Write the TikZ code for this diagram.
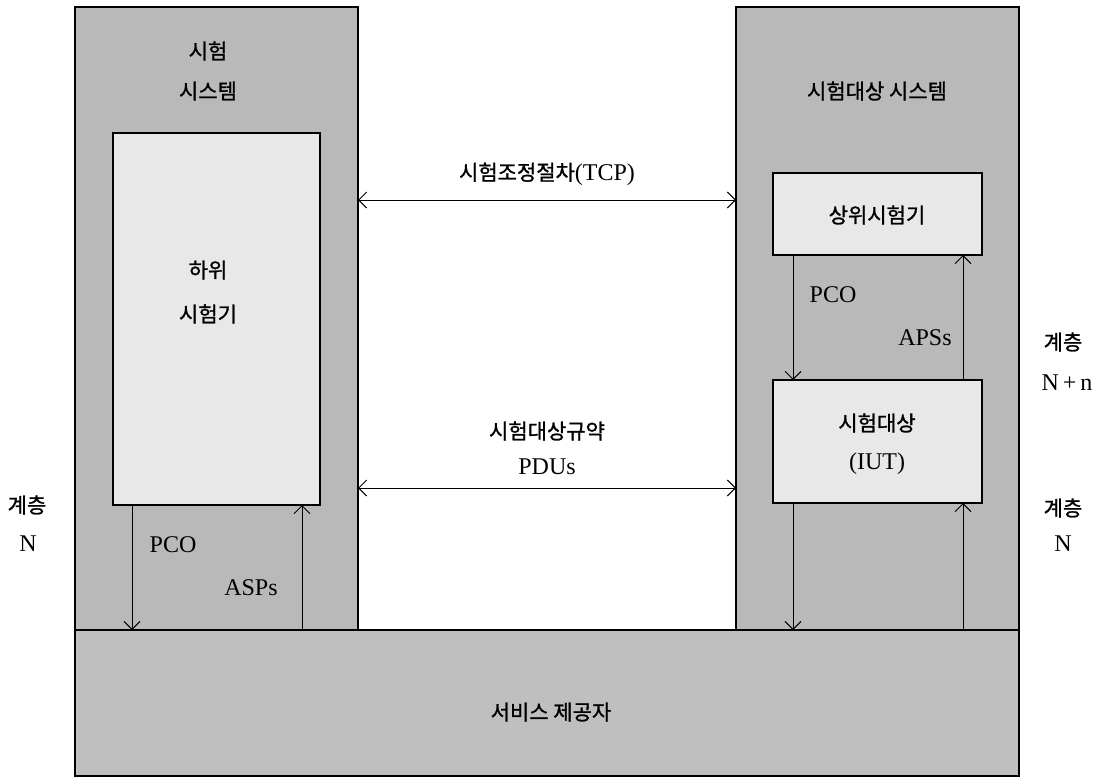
\documentclass[tikz,border=0pt]{standalone}
\usepackage{fontspec}
\setmainfont{Liberation Serif}
\newfontfamily\kr[FakeBold=1.2]{Noto Sans CJK KR}
\usetikzlibrary{arrows.meta}
\tikzset{
  col/.style={draw=black, line width=1.4pt, fill=gray!55, inner sep=0pt, outer sep=0pt, anchor=north west},
  inner/.style={draw=black, line width=1.4pt, fill=gray!18, inner sep=0pt, outer sep=0pt, anchor=north west},
  arr/.style={line width=0.9pt, -{Straight Barb[length=8pt,width=16pt]}},
  darr/.style={line width=0.9pt, {Straight Barb[length=8pt,width=16pt]}-{Straight Barb[length=8pt,width=16pt]}},
  kt/.style={font=\kr\fontsize{21}{42}\selectfont, align=center, inner sep=0pt},
  lt/.style={font=\fontsize{24}{42}\selectfont, align=center, inner sep=0pt},
}
\begin{document}
\begin{tikzpicture}[x=1pt,y=-1pt]
\useasboundingbox (0,0) rectangle (1106,782);
% columns
\node[col, minimum width=283pt, minimum height=623pt] (testsys) at (75,7) {};
\node[col, minimum width=283pt, minimum height=623pt] (sut) at (736,7) {};
% service provider
\node[col, fill=gray!50, minimum width=944pt, minimum height=146pt] (service) at (75,630) {};
% inner boxes
\node[inner, minimum width=207pt, minimum height=372pt] (lower) at (113,133) {};
\node[inner, minimum width=209pt, minimum height=82pt] (upper) at (773,173) {};
\node[inner, minimum width=209pt, minimum height=123pt] (iut) at (773,380) {};
% coordinates
\coordinate (tcpy) at (0,200);
\coordinate (pduy) at (0,488);
\coordinate (lx1) at (132,0);
\coordinate (lx2) at (302,0);
\coordinate (rx1) at (793,0);
\coordinate (rx2) at (963,0);
% horizontal arrows
\draw[darr] (testsys.east |- tcpy) -- (sut.west |- tcpy);
\draw[darr] (testsys.east |- pduy) -- (sut.west |- pduy);
% left vertical arrows
\draw[arr] (lower.south -| lx1) -- (service.north -| lx1);
\draw[arr] (service.north -| lx2) -- (lower.south -| lx2);
% right upper arrows
\draw[arr] (upper.south -| rx1) -- (iut.north -| rx1);
\draw[arr] (iut.north -| rx2) -- (upper.south -| rx2);
% right lower arrows
\draw[arr] (iut.south -| rx1) -- (service.north -| rx1);
\draw[arr] (service.north -| rx2) -- (iut.south -| rx2);
% texts
\node[kt, font=\kr\fontsize{21}{40}\selectfont] (t1) at (208,71) {시험\\시스템};
\node[kt] (t2) at (877,91) {시험대상 시스템};
\node[inner sep=0pt] (t3) at (547,174) {{\kr\fontsize{21}{24}\selectfont 시험조정절차}{\fontsize{24}{28}\selectfont(TCP)}};
\node[kt, font=\kr\fontsize{21}{44}\selectfont] (t4) at (208,292) {하위\\시험기};
\node[kt] (t5) at (877,215) {상위시험기};
\node[lt] (t6) at (833,295) {PCO};
\node[lt] (t7) at (925,338) {APSs};
\node[kt] (t8) at (877,423) {시험대상};
\node[lt] (t9) at (877,464) {(IUT)};
\node[kt] (t10) at (547,431) {시험대상규약};
\node[lt] (t11) at (547,467) {PDUs};
\node[lt] (t12) at (173,545) {PCO};
\node[lt] (t13) at (251,588) {ASPs};
\node[kt] (t14) at (551,712) {서비스 제공자};
\node[kt] (t15) at (1063,342) {계층};
\node[lt] (t16) at (1067,383) {N\,+\,n};
\node[kt] (t17) at (1063,508) {계층};
\node[lt] (t18) at (1063,544) {N};
\node[kt] (t19) at (27,505) {계층};
\node[lt] (t20) at (28,544) {N};
\end{tikzpicture}
\end{document}
